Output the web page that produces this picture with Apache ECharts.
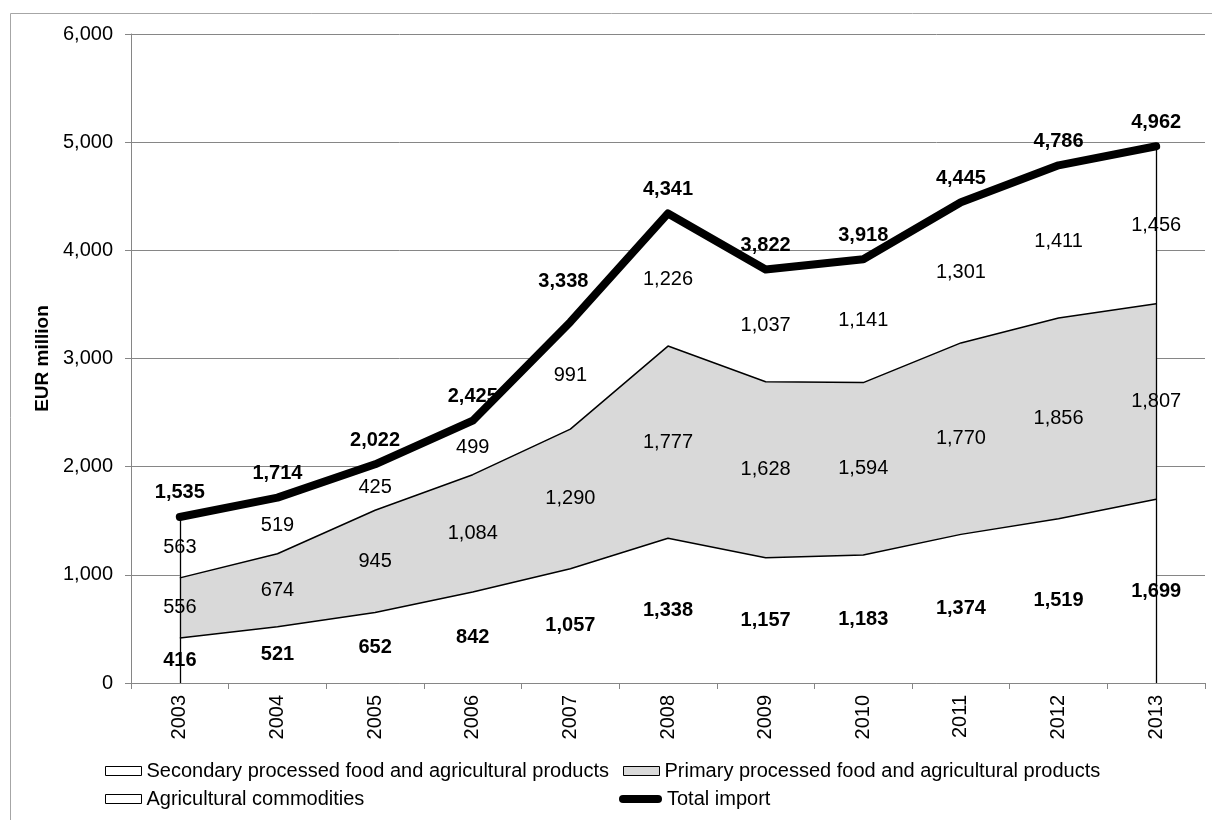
<!DOCTYPE html>
<html>
<head>
<meta charset="utf-8">
<script src="https://cdn.jsdelivr.net/npm/echarts@6/dist/echarts.min.js"></script>
<style>
  html, body { margin: 0; padding: 0; background: #fff; }
  #chart { width: 1212px; height: 820px; }
</style>
</head>
<body>
<div id="chart"></div>
<script>
// Imports by product group, EUR million
const years = ['2003','2004','2005','2006','2007','2008','2009','2010','2011','2012','2013'];
const agricultural = [416, 521, 652, 842, 1057, 1338, 1157, 1183, 1374, 1519, 1699];
const primary = [556, 674, 945, 1084, 1290, 1777, 1628, 1594, 1770, 1856, 1807];
const secondary = [563, 519, 425, 499, 991, 1226, 1037, 1141, 1301, 1411, 1456];
const totalImport = [1535, 1714, 2022, 2425, 3338, 4341, 3822, 3918, 4445, 4786, 4962];
const yTicks = [0, 1000, 2000, 3000, 4000, 5000, 6000];

const FONT = "'Liberation Sans', Arial, sans-serif";
const FS = 20;
const fmt = v => Number(v).toLocaleString('en-US');

const names = {
  sec: 'Secondary processed food and agricultural products',
  pri: 'Primary processed food and agricultural products',
  agr: 'Agricultural commodities',
  tot: 'Total import'
};

// label anchors in the middle of each stacked band
function bandMiddles(lower, band) {
  return band.map((v, i) => ({ value: [i, lower[i] + v / 2], raw: v }));
}
const zeros = years.map(() => 0);
const agrTop = agricultural.slice();
const priTop = agricultural.map((v, i) => v + primary[i]);

function labelSeries(data, bold) {
  return {
    type: 'scatter',
    data: data,
    symbolSize: 0,
    silent: true,
    z: 5,
    itemStyle: { opacity: 1 },
    label: {
      show: true,
      position: 'inside',
      fontFamily: FONT,
      fontSize: FS,
      fontWeight: bold ? 'bold' : 'normal',
      color: '#000',
      formatter: p => fmt(p.data.raw)
    }
  };
}

function areaSeries(name, data, fill) {
  return {
    name: name,
    type: 'line',
    stack: 'imports',
    data: data,
    symbol: 'none',
    lineStyle: { color: '#000', width: 1.5 },
    itemStyle: { color: fill, borderColor: '#000', borderWidth: 1 },
    areaStyle: { color: fill, opacity: 1 },
    z: 2
  };
}

const legendBase = {
  orient: 'horizontal',
  padding: 0,
  itemGap: 0,
  itemWidth: 36,
  itemHeight: 9,
  icon: 'rect',
  selectedMode: false,
  textStyle: { fontFamily: FONT, fontSize: FS, color: '#000' }
};

// total labels: the 2007 value is nudged up-left, clear of the steep segment
const totalLabels = totalImport.map((v, i) => i === 4
  ? { value: v, label: { offset: [-7, -16] } }
  : v);

const chart = echarts.init(document.getElementById('chart'), null, { renderer: 'canvas' });
const last = years.length - 1;

chart.setOption({
  animation: false,
  backgroundColor: '#fff',
  textStyle: { fontFamily: FONT },
  grid: { left: 131, right: 7, top: 34, bottom: 137, containLabel: false },
  graphic: [{
    type: 'rect',
    shape: { x: 10.5, y: 13.5, width: 1400, height: 1000 },
    style: { fill: null, stroke: '#a6a6a6', lineWidth: 1 },
    silent: true,
    z: -10
  }],
  legend: [
    Object.assign({}, legendBase, { left: 105, top: 761, data: [{ name: names.sec, itemStyle: { color: '#fff', borderColor: '#000', borderWidth: 1 } }] }),
    Object.assign({}, legendBase, { left: 623, top: 761, data: [{ name: names.pri, itemStyle: { color: '#d9d9d9', borderColor: '#000', borderWidth: 1 } }] }),
    Object.assign({}, legendBase, { left: 105, top: 789, data: [{ name: names.agr, itemStyle: { color: '#fff', borderColor: '#000', borderWidth: 1 } }] }),
    Object.assign({}, legendBase, {
      left: 619, top: 789, itemWidth: 43, itemHeight: 8,
      data: [{ name: names.tot, icon: 'path://M4,0 L39,0 A4,4 0 0 1 39,8 L4,8 A4,4 0 0 1 4,0 Z', itemStyle: { color: '#000' } }]
    })
  ],
  xAxis: {
    type: 'category',
    data: years,
    boundaryGap: true,
    axisLine: { lineStyle: { color: '#868686', width: 1 } },
    axisTick: { show: true, length: 6, lineStyle: { color: '#868686' } },
    axisLabel: { rotate: 90, margin: 12, fontFamily: FONT, fontSize: FS, color: '#000' },
    splitLine: { show: false }
  },
  yAxis: {
    type: 'value',
    min: yTicks[0],
    max: yTicks[yTicks.length - 1],
    interval: yTicks[1] - yTicks[0],
    name: 'EUR million',
    nameLocation: 'middle',
    nameRotate: 90,
    nameGap: 72,
    nameTextStyle: { fontFamily: FONT, fontSize: 19, fontWeight: 'bold', color: '#000' },
    axisLine: { show: true, lineStyle: { color: '#868686', width: 1 } },
    axisTick: { show: true, length: 6, lineStyle: { color: '#868686' } },
    axisLabel: { margin: 18, fontFamily: FONT, fontSize: FS, color: '#000', formatter: v => fmt(v) },
    splitLine: { show: true, lineStyle: { color: '#868686', width: 1 } }
  },
  series: [
    Object.assign(areaSeries(names.agr, agricultural, '#ffffff'), {
      markLine: {
        silent: true,
        symbol: 'none',
        label: { show: false },
        lineStyle: { color: '#000', width: 1.3, type: 'solid' },
        data: [
          [{ coord: [0, 0] }, { coord: [0, totalImport[0]] }],
          [{ coord: [last, 0] }, { coord: [last, totalImport[last]] }]
        ]
      }
    }),
    areaSeries(names.pri, primary, '#d9d9d9'),
    areaSeries(names.sec, secondary, '#ffffff'),
    {
      name: names.tot,
      type: 'line',
      data: totalLabels,
      showSymbol: true,
      symbol: 'circle',
      symbolSize: 0,
      itemStyle: { color: '#000' },
      lineStyle: { color: '#000', width: 8, cap: 'round', join: 'round' },
      z: 4,
      label: {
        show: true,
        position: 'top',
        distance: 14,
        fontFamily: FONT,
        fontSize: FS,
        fontWeight: 'bold',
        color: '#000',
        formatter: p => fmt(p.value)
      }
    },
    labelSeries(bandMiddles(zeros, agricultural), true),
    labelSeries(bandMiddles(agrTop, primary), false),
    labelSeries(bandMiddles(priTop, secondary), false)
  ]
});
</script>
</body>
</html>
